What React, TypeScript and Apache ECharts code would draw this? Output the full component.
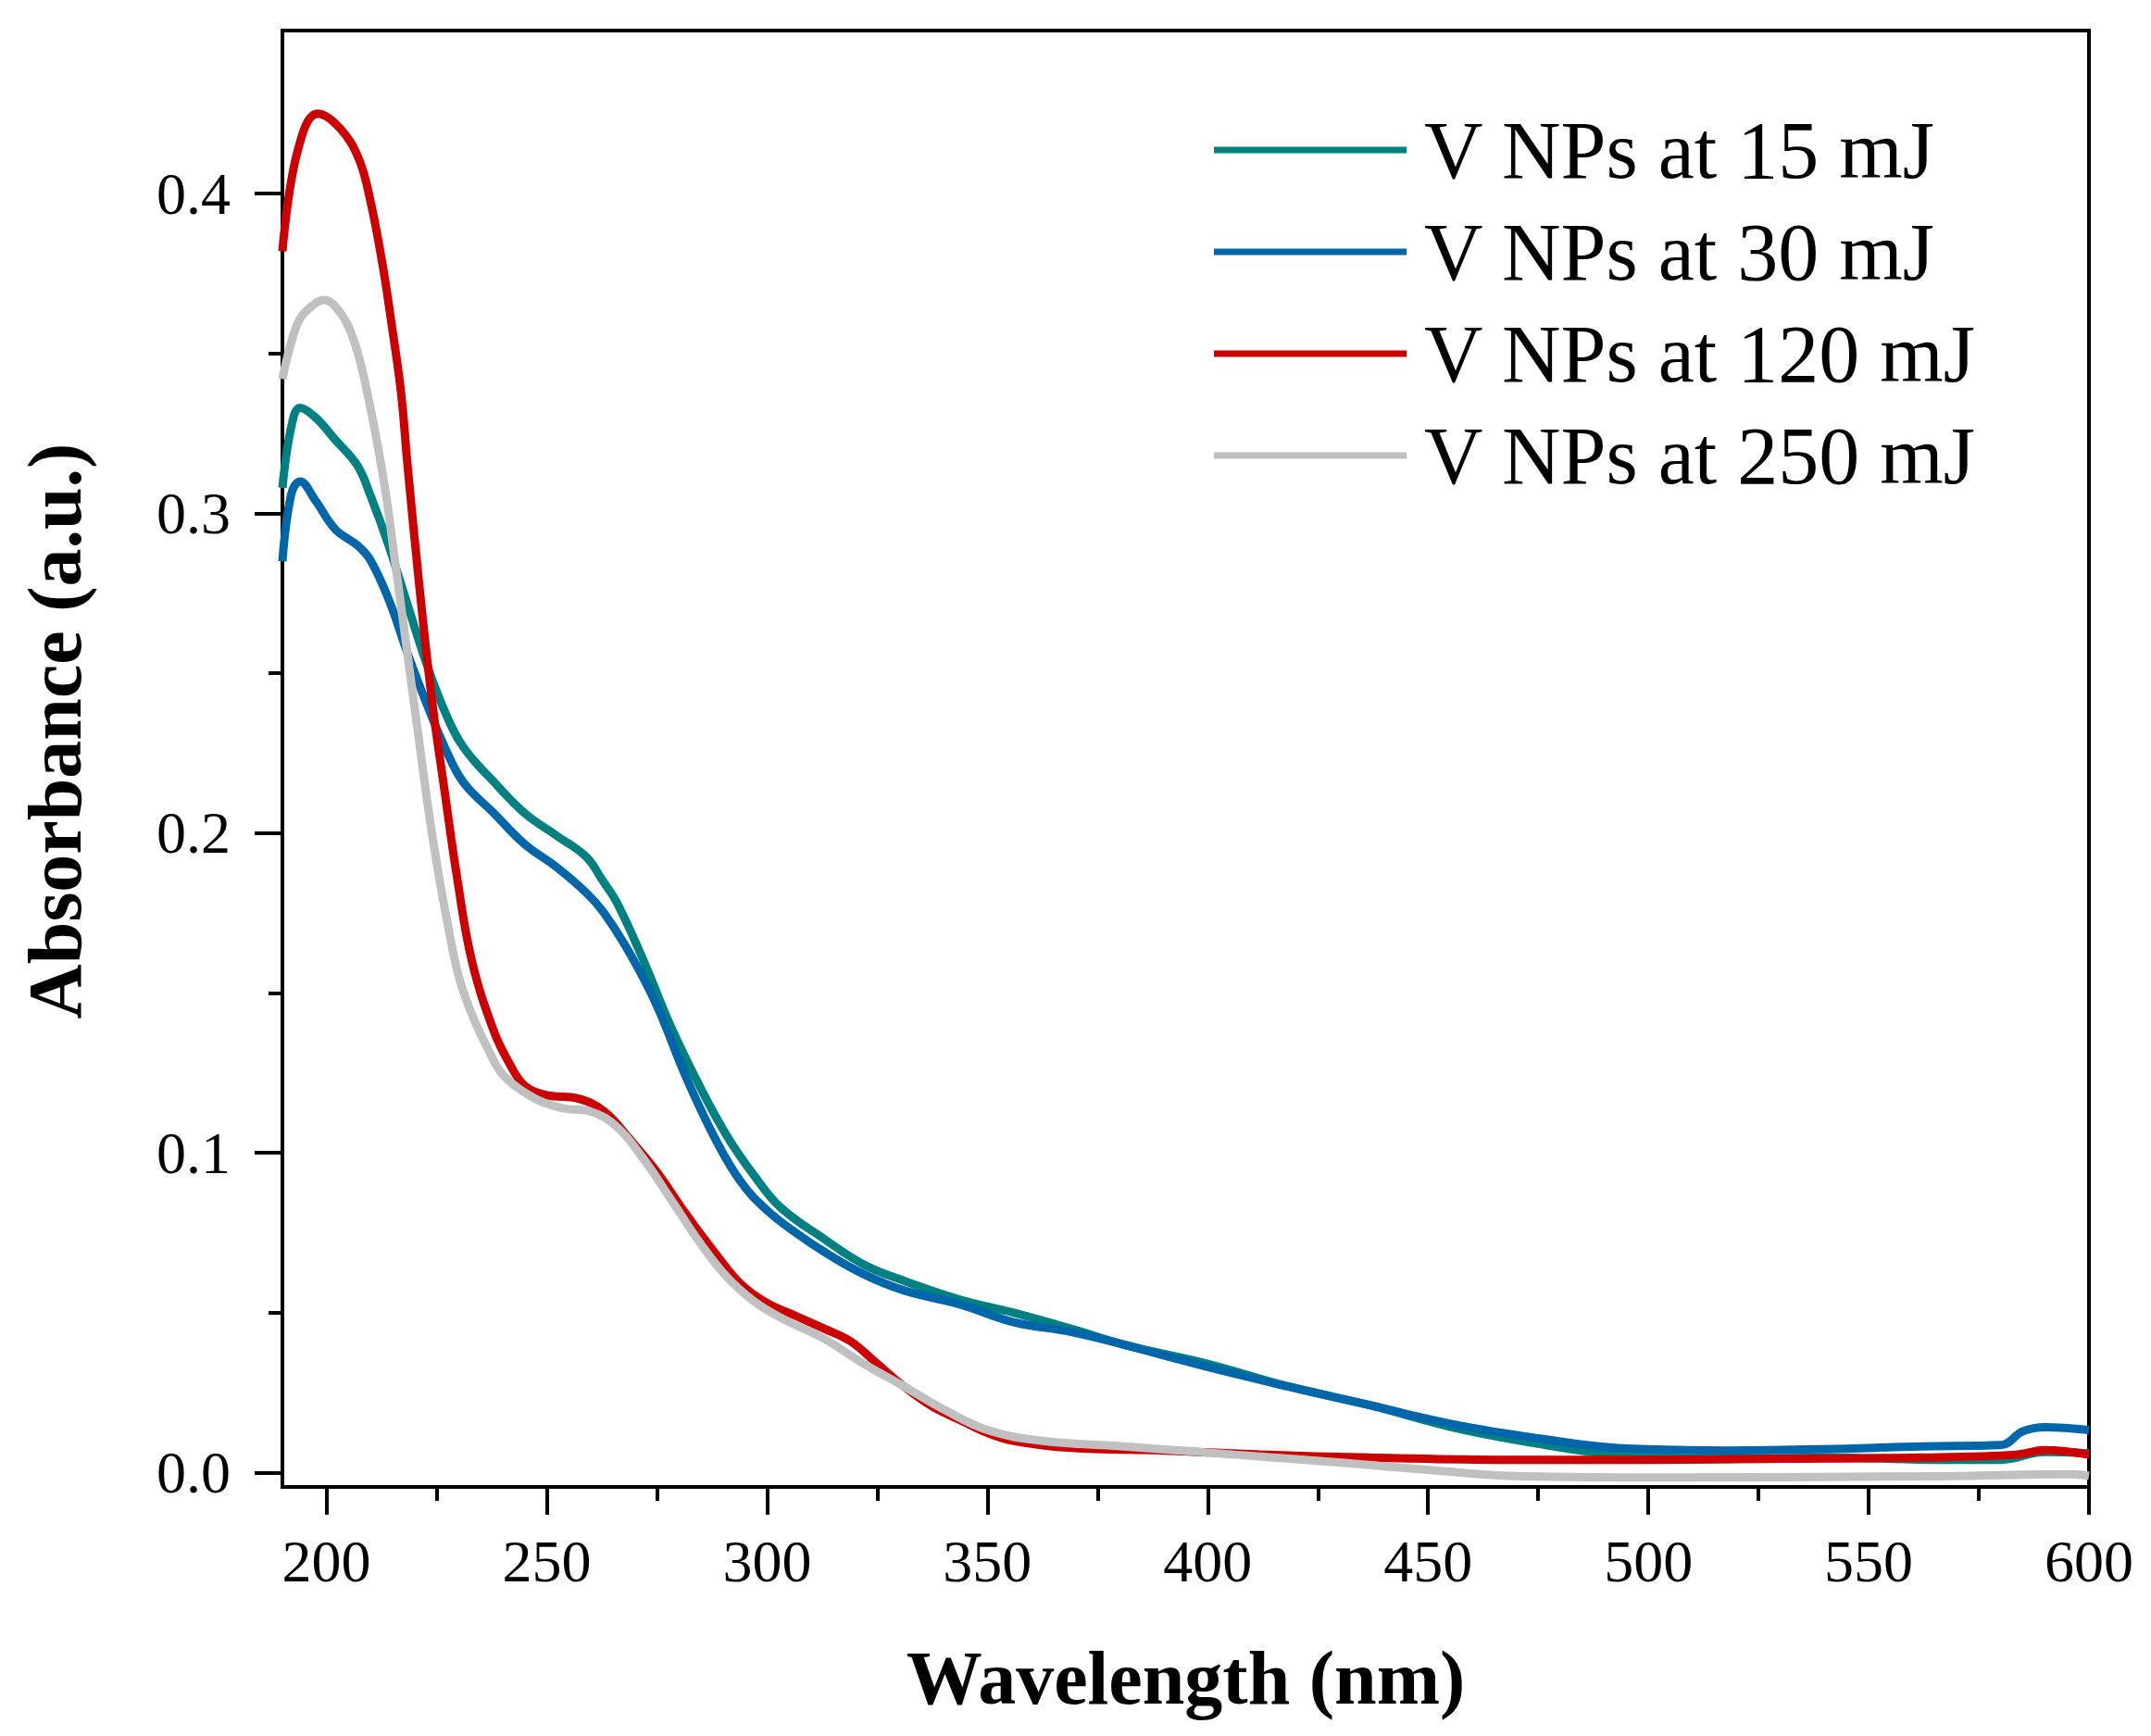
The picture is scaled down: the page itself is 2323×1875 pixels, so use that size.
import { useEffect, useRef } from 'react'
import * as echarts from 'echarts'

// wavelength (nm) / absorbance (a.u.)
const wl15 = [190, 192, 194, 197.5, 202, 207, 210, 214.2, 218.4, 222.6, 226.8, 231, 238, 245, 252, 259, 262.5, 266, 272, 278, 285, 291, 297, 303, 313, 322, 331, 344, 356, 369, 381, 400, 418, 437, 456, 475, 493, 518, 540, 568, 580, 590, 600]
const abs15 = [0.308, 0.327, 0.333, 0.330, 0.323, 0.315, 0.3055, 0.2896, 0.2714, 0.2534, 0.2382, 0.227, 0.216, 0.2062, 0.1994, 0.1925, 0.1855, 0.178, 0.160, 0.140, 0.120, 0.105, 0.093, 0.083, 0.073, 0.065, 0.060, 0.054, 0.050, 0.045, 0.040, 0.034, 0.027, 0.021, 0.014, 0.009, 0.0056, 0.0043, 0.0047, 0.004, 0.004, 0.0064, 0.006]

const wl30 = [190, 192, 194, 197.5, 202, 207, 210, 214.2, 218.4, 222.6, 226.8, 231, 238, 245, 252, 259, 263, 269, 275, 281.5, 288, 294, 300, 306.5, 313, 322, 331, 344, 356, 369, 381, 400, 418, 437, 456, 475, 493, 518, 540, 562, 580, 585, 590, 600]
const abs30 = [0.285, 0.306, 0.310, 0.304, 0.295, 0.290, 0.2853, 0.2728, 0.2562, 0.2409, 0.227, 0.216, 0.2062, 0.1965, 0.1896, 0.1813, 0.175, 0.162, 0.146, 0.124, 0.105, 0.091, 0.082, 0.075, 0.069, 0.062, 0.057, 0.0525, 0.047, 0.044, 0.040, 0.033, 0.027, 0.021, 0.015, 0.0107, 0.0077, 0.0069, 0.0073, 0.0082, 0.0086, 0.0129, 0.0142, 0.0133]

const wl120 = [190, 193.3, 198, 203, 207.3, 210, 212.7, 214.8, 216.9, 218.4, 221.2, 224, 226.8, 229.6, 233, 238, 241.5, 245, 250, 257, 263, 269, 275, 281.5, 288, 294, 300, 306.5, 313, 319, 325, 331, 337.6, 344, 350, 356, 369, 390, 412, 437, 468, 500, 531, 562, 583.5, 590, 600]
const abs120 = [0.382, 0.4125, 0.425, 0.4205, 0.411, 0.3975, 0.378, 0.359, 0.338, 0.315, 0.2756, 0.2409, 0.2132, 0.1865, 0.160, 0.138, 0.128, 0.121, 0.118, 0.117, 0.113, 0.104, 0.094, 0.081, 0.069, 0.059, 0.053, 0.049, 0.045, 0.041, 0.034, 0.027, 0.0206, 0.0163, 0.0124, 0.0099, 0.0077, 0.0069, 0.0056, 0.0047, 0.004, 0.004, 0.0043, 0.0047, 0.0056, 0.007, 0.0056]

const wl250 = [190, 193.3, 196, 199.5, 203, 205.8, 208.6, 212.8, 215.6, 218.4, 221.2, 224, 227.5, 231, 238, 241, 247.3, 253.5, 259.8, 266, 272, 278.4, 284.7, 291, 297, 303, 312.7, 322, 331, 340.7, 350, 362.5, 381, 406, 431, 453, 468, 500, 562, 596, 600]
const abs250 = [0.342, 0.359, 0.364, 0.3667, 0.363, 0.3557, 0.342, 0.312, 0.2846, 0.2558, 0.227, 0.1994, 0.1716, 0.1507, 0.1287, 0.123, 0.117, 0.114, 0.113, 0.108, 0.098, 0.085, 0.072, 0.061, 0.0536, 0.0485, 0.042, 0.034, 0.027, 0.0193, 0.0133, 0.0099, 0.0082, 0.0056, 0.003, 0.0005, -0.001, -0.0015, -0.0012, -0.0005, -0.001]

const seriesNames = ['V NPs at 15 mJ', 'V NPs at 30 mJ', 'V NPs at 120 mJ', 'V NPs at 250 mJ']
const seriesColors = ['#008080', '#0066AA', '#CC0000', '#C0C0C0']

const xMajor = [200, 250, 300, 350, 400, 450, 500, 550, 600]
const xMinor = [225, 275, 325, 375, 425, 475, 525, 575]
const yMajor = [0, 0.1, 0.2, 0.3, 0.4]
const yMinor = [0.05, 0.15, 0.25, 0.35]

const FONT = "'Liberation Serif', 'Times New Roman', serif"

const zip = (xs: number[], ys: number[]) => xs.map((x, i) => [x, ys[i]])

function App() {
  const chartRef = useRef<HTMLDivElement>(null)

  useEffect(() => {
    if (!chartRef.current) return
    document.body.style.margin = '0'
    const chart = echarts.init(chartRef.current, null, { renderer: 'svg' })

    const lines = [
      zip(wl15, abs15),
      zip(wl30, abs30),
      zip(wl120, abs120),
      zip(wl250, abs250),
    ]

    const axisBase = {
      type: 'value' as const,
      splitLine: { show: false },
    }
    const tickStyle = { color: '#000', width: 4 }

    const option: echarts.EChartsOption = {
      animation: false,
      backgroundColor: '#fff',
      grid: {
        left: 305,
        right: 67,
        top: 33,
        bottom: 269,
        show: true,
        borderColor: '#000',
        borderWidth: 4,
      },
      legend: {
        data: seriesNames,
        orient: 'vertical',
        left: 1306,
        top: 113,
        icon: 'rect',
        itemWidth: 208,
        itemHeight: 7,
        itemGap: 22,
        textStyle: {
          fontFamily: FONT,
          fontSize: 88,
          lineHeight: 88,
          color: '#000',
          padding: [0, 0, 0, 14],
        },
      },
      xAxis: [
        {
          ...axisBase,
          min: 190,
          max: 600,
          name: 'Wavelength (nm)',
          nameLocation: 'middle',
          nameGap: 165,
          nameTextStyle: { fontFamily: FONT, fontSize: 82, fontWeight: 'bold', color: '#000' },
          axisLine: { onZero: false, lineStyle: { color: '#000', width: 4 } },
          axisTick: { customValues: xMajor, length: 30, lineStyle: tickStyle },
          axisLabel: {
            customValues: xMajor,
            margin: 48,
            fontFamily: FONT,
            fontSize: 64,
            color: '#000',
          },
        },
        {
          // minor ticks
          ...axisBase,
          min: 190,
          max: 600,
          position: 'bottom',
          axisLine: { show: false, onZero: false },
          axisTick: { customValues: xMinor, length: 15, lineStyle: tickStyle },
          axisLabel: { show: false },
        },
      ],
      yAxis: [
        {
          ...axisBase,
          min: -0.0045,
          max: 0.451,
          name: 'Absorbance (a.u.)',
          nameLocation: 'middle',
          nameGap: 205,
          nameTextStyle: {
            fontFamily: FONT,
            fontSize: 82,
            fontWeight: 'bold',
            color: '#000',
            padding: [0, 0, 0, 60],
          },
          axisLine: { onZero: false, lineStyle: { color: '#000', width: 4 } },
          axisTick: { customValues: yMajor, length: 30, lineStyle: tickStyle },
          axisLabel: {
            customValues: yMajor,
            margin: 56,
            fontFamily: FONT,
            fontSize: 64,
            color: '#000',
            formatter: (v: number) => v.toFixed(1),
          },
        },
        {
          // minor ticks
          ...axisBase,
          min: -0.0045,
          max: 0.451,
          position: 'left',
          axisLine: { show: false, onZero: false },
          axisTick: { customValues: yMinor, length: 15, lineStyle: tickStyle },
          axisLabel: { show: false },
        },
      ],
      series: lines.map((data, i) => ({
        name: seriesNames[i],
        type: 'line' as const,
        data,
        smooth: 0.4,
        showSymbol: false,
        symbol: 'none',
        color: seriesColors[i],
        lineStyle: { color: seriesColors[i], width: 9 },
        z: 2 + i,
      })),
    }

    chart.setOption(option)

    return () => {
      chart.dispose()
    }
  }, [])

  return <div ref={chartRef} style={{ width: '2323px', height: '1875px' }} />
}

export default App
